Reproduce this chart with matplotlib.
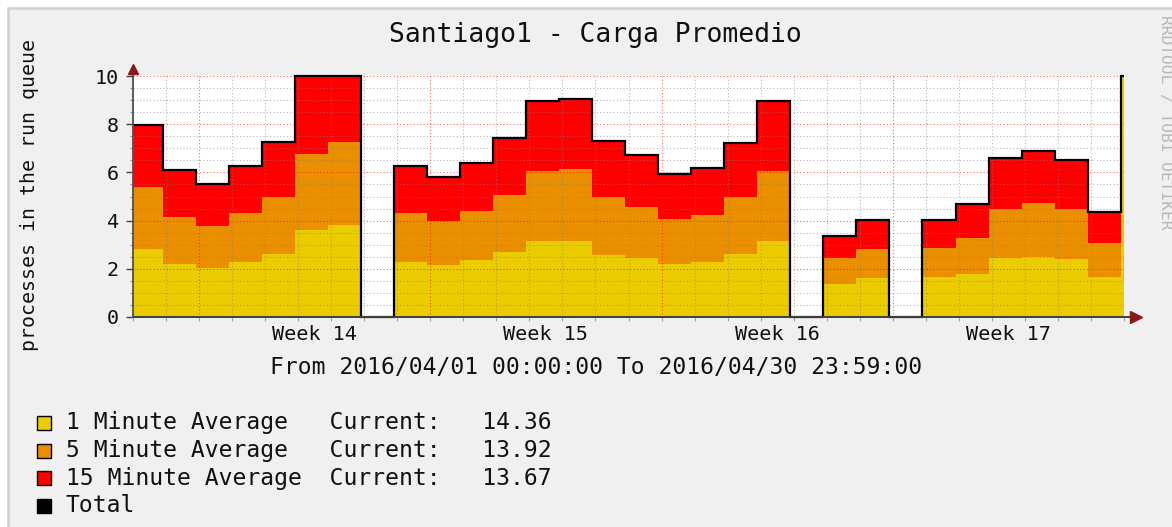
import numpy as np
import matplotlib
matplotlib.use("Agg")
import matplotlib.pyplot as plt
from matplotlib.patches import Rectangle

nan = np.nan

# daily values, April 2016 (nan = no data), last entry = current partial step
one_min = [2.83, 2.21, 2.04, 2.28, 2.62, 3.59, 3.83, nan,
           2.28, 2.14, 2.37, 2.69, 3.17, 3.17, 2.59, 2.46, 2.21, 2.30, 2.62, 3.17,
           nan, 1.38, 1.61, nan, 1.65, 1.80, 2.44, 2.48, 2.42, 1.68, 14.36]
five_min = [2.55, 1.96, 1.73, 2.04, 2.37, 3.17, 3.45, nan,
            2.04, 1.86, 2.04, 2.37, 2.90, 2.97, 2.40, 2.12, 1.86, 1.95, 2.37, 2.90,
            nan, 1.06, 1.22, nan, 1.21, 1.47, 2.05, 2.24, 2.07, 1.38, 13.92]
fifteen_min = [2.59, 1.93, 1.75, 1.93, 2.27, 3.40, 3.60, nan,
               1.93, 1.79, 2.00, 2.35, 2.90, 2.90, 2.32, 2.15, 1.86, 1.92, 2.25, 2.90,
               nan, 0.94, 1.20, nan, 1.17, 1.42, 2.10, 2.18, 2.02, 1.29, 13.67]

week_labels = ["Week 14", "Week 15", "Week 16", "Week 17"]
legend_names = ["1 Minute Average", "5 Minute Average", "15 Minute Average", "Total"]
current = [14.36, 13.92, 13.67]

C_1 = "#EACC00"
C_5 = "#EA8F00"
C_15 = "#FF0000"
ARROW = "#8b1a1a"
MONO = "DejaVu Sans Mono"

W, H = 1172, 527
def fx(x): return x / W
def fy(y): return 1 - y / H

fig = plt.figure(figsize=(W / 100, H / 100), dpi=100, facecolor="white")
bg = Rectangle((fx(8), -0.1), 2, fy(7.5) + 0.1, transform=fig.transFigure,
               fc="#f0f0f0", ec="#cfcfcf", lw=1.8, zorder=-10)
fig.patches.append(bg)

ax = fig.add_axes([fx(133), fy(317), (1124 - 133) / W, (317 - 76) / H])
ax.set_facecolor("white")
ax.set_xlim(0, 30)
ax.set_ylim(0, 10)
for s in ax.spines.values():
    s.set_visible(False)

a = np.nan_to_num(np.array(one_min))
b = np.nan_to_num(np.array(five_min))
c = np.nan_to_num(np.array(fifteen_min))
edges = np.clip(np.arange(len(a) + 1) - 0.1, 0, 30)

ax.stairs(a, edges, baseline=0, fill=True, color=C_1, lw=0, zorder=1)
ax.stairs(a + b, edges, baseline=a, fill=True, color=C_5, lw=0, zorder=1)
ax.stairs(a + b + c, edges, baseline=a + b, fill=True, color=C_15, lw=0, zorder=1)
ax.stairs(np.minimum(a + b + c, 10), edges, baseline=None, color="black", lw=1.6,
          zorder=3, clip_on=False)

# grid on top, rrdtool style
red_grid = (1, 0, 0, 0.6)
gray_grid = (0.5, 0.5, 0.5, 0.55)
for d in range(0, 31):
    ax.axvline(d, color=red_grid if d % 7 == 2 else gray_grid,
               lw=0.8, ls=(0, (1, 2)), zorder=2)
for v in np.arange(0.5, 10.01, 0.5):
    major = abs(v % 2) < 1e-9
    ax.axhline(v, color=red_grid if major else gray_grid,
               lw=0.8, ls=(0, (1, 2)), zorder=2)

# axes with arrows
ax.plot([0, 30.3], [0, 0], color="#404040", lw=1.4, clip_on=False, zorder=4)
ax.plot([0, 0], [0, 10.25], color="#505050", lw=1.3, clip_on=False, zorder=4)
ax.plot([30.35], [0], marker=">", ms=8, color=ARROW, clip_on=False, zorder=5)
ax.plot([0], [10.3], marker="^", ms=7, color=ARROW, clip_on=False, zorder=5)

ax.set_yticks(range(0, 11, 2))
ax.set_yticks(np.arange(0, 10.01, 0.5), minor=True)
ax.set_xticks([5.5, 12.5, 19.5, 26.5])
ax.set_xticklabels(week_labels)
ax.set_xticks(range(0, 31), minor=True)
ax.tick_params(axis="y", which="major", length=5, width=1, color="#404040",
               labelsize=14.5, pad=5, labelcolor="#111111")
ax.tick_params(axis="y", which="minor", length=2.5, width=0.8, color="#909090")
ax.tick_params(axis="x", which="major", length=0, labelsize=14.5, pad=6,
               labelcolor="#111111")
ax.tick_params(axis="x", which="minor", length=3, width=0.8, color="#a0a0a0")
for t in ax.get_xticklabels() + ax.get_yticklabels():
    t.set_family(MONO)

fig.text(fx(595), fy(35), "Santiago1 - Carga Promedio", family=MONO, fontsize=19,
         ha="center", va="center", color="#111111")
fig.text(fx(30), fy(195), "processes in the run queue", family=MONO, fontsize=14.3,
         rotation=90, ha="center", va="center", color="#111111")
fig.text(fx(596), fy(368), "From 2016/04/01 00:00:00 To 2016/04/30 23:59:00",
         family=MONO, fontsize=16.6, ha="center", va="center", color="#111111")
fig.text(fx(1166), fy(15), "RRDTOOL / TOBI OETIKER", family=MONO, fontsize=11.7,
         rotation=270, ha="center", va="top", color="#b8b8b8")

rows = [423, 451, 478, 506]
colors = [C_1, C_5, C_15, "black"]
for i, name in enumerate(legend_names):
    y = rows[i]
    fig.patches.append(Rectangle((fx(37), fy(y + 7)), 14 / W, 14 / H,
                                 transform=fig.transFigure, fc=colors[i],
                                 ec="black", lw=1))
    if i < len(current):
        label = f"{name:<19}Current:   {current[i]:.2f}"
    else:
        label = name
    fig.text(fx(66), fy(y), label, family=MONO, fontsize=16.6, ha="left",
             va="center", color="#111111")

fig.savefig("out.png", dpi=100, facecolor=fig.get_facecolor())
